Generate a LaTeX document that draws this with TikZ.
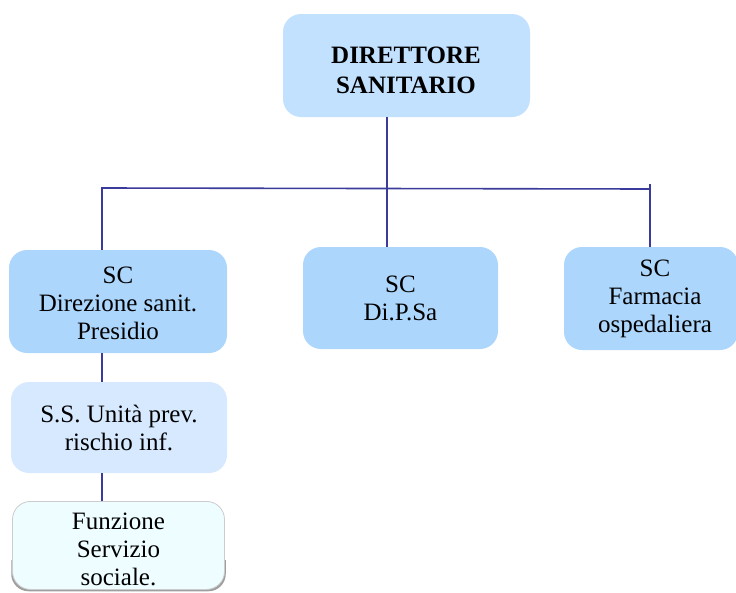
\documentclass[tikz,border=0pt]{standalone}
\usepackage{fontspec}
\setmainfont{Liberation Serif}
\usetikzlibrary{calc}
\definecolor{boxtop}{HTML}{C2E1FF}
\definecolor{boxsc}{HTML}{ADD6FD}
\definecolor{boxss}{HTML}{D6E9FF}
\definecolor{boxfn}{HTML}{EEFDFF}
\definecolor{linkc}{HTML}{3B3B9B}
\tikzset{
  unit/.style={rounded corners=18pt, inner sep=0pt, align=center,
    font=\fontsize{25}{28}\selectfont},
  link/.style={draw=linkc, line width=1.6pt}
}
\begin{document}
\begin{tikzpicture}[x=1pt,y=-1pt]
\useasboundingbox (0,0) rectangle (736,592);

% units
\node[unit, fill=boxtop, minimum width=247pt, minimum height=103pt] (top) at (406.5,65.5) {};
\node[align=center, font=\fontsize{25}{30}\selectfont\bfseries] (toptext) at (406,70)
  {DIRETTORE\\SANITARIO};
\node[unit, fill=boxsc, minimum width=218pt, minimum height=103pt] (sc1) at (118,301.5) {};
\node[align=center, font=\fontsize{25}{28}\selectfont] (sc1text) at (118,303.5)
  {SC\\Direzione sanit.\\Presidio};
\node[unit, fill=boxsc, minimum width=195pt, minimum height=102pt] (dip) at (400.5,298)
  {SC\\Di.P.Sa};
\node[unit, fill=boxsc, minimum width=174pt, minimum height=103pt] (far) at (651,298.5) {};
\node[align=center, font=\fontsize{25}{28}\selectfont] (fartext) at (655,298.5)
  {SC\\Farmacia\\ospedaliera};
\node[unit, fill=boxss, minimum width=216pt, minimum height=91pt] (ss) at (119,427.5)
  {S.S. Unità prev.\\rischio inf.};
\draw[gray!75, line width=2.5pt, rounded corners=16pt]
  (12.5,560) -- (12.5,590) -- (224.5,590) -- (224.5,560);
\node[unit, fill=boxfn, draw=gray!40, line width=0.8pt, minimum width=212pt,
  minimum height=88pt, anchor=north] (fn) at (118.5,501) {};
\node[align=center, font=\fontsize{25}{28}\selectfont] (fntext) at (118.5,549)
  {Funzione\\Servizio\\sociale.};

% bus points
\coordinate (bL) at (102,188);
\coordinate (bM) at (387,188);
\coordinate (bR) at (650,189);

% connectors
\draw[link] (top.south -| bM) -- (bM);
\draw[link] (bL |- sc1.north) -- (bL) -- (bR) -- (bR |- far.north);
\draw[link] ($(bR)+(0,-5)$) -- (bR);
\draw[link] (bM) -- (bM |- dip.north);
\draw[link] (bL |- sc1.south) -- (bL |- ss.north);
\draw[link] (bL |- ss.south) -- (bL |- fn.north);
\end{tikzpicture}
\end{document}
